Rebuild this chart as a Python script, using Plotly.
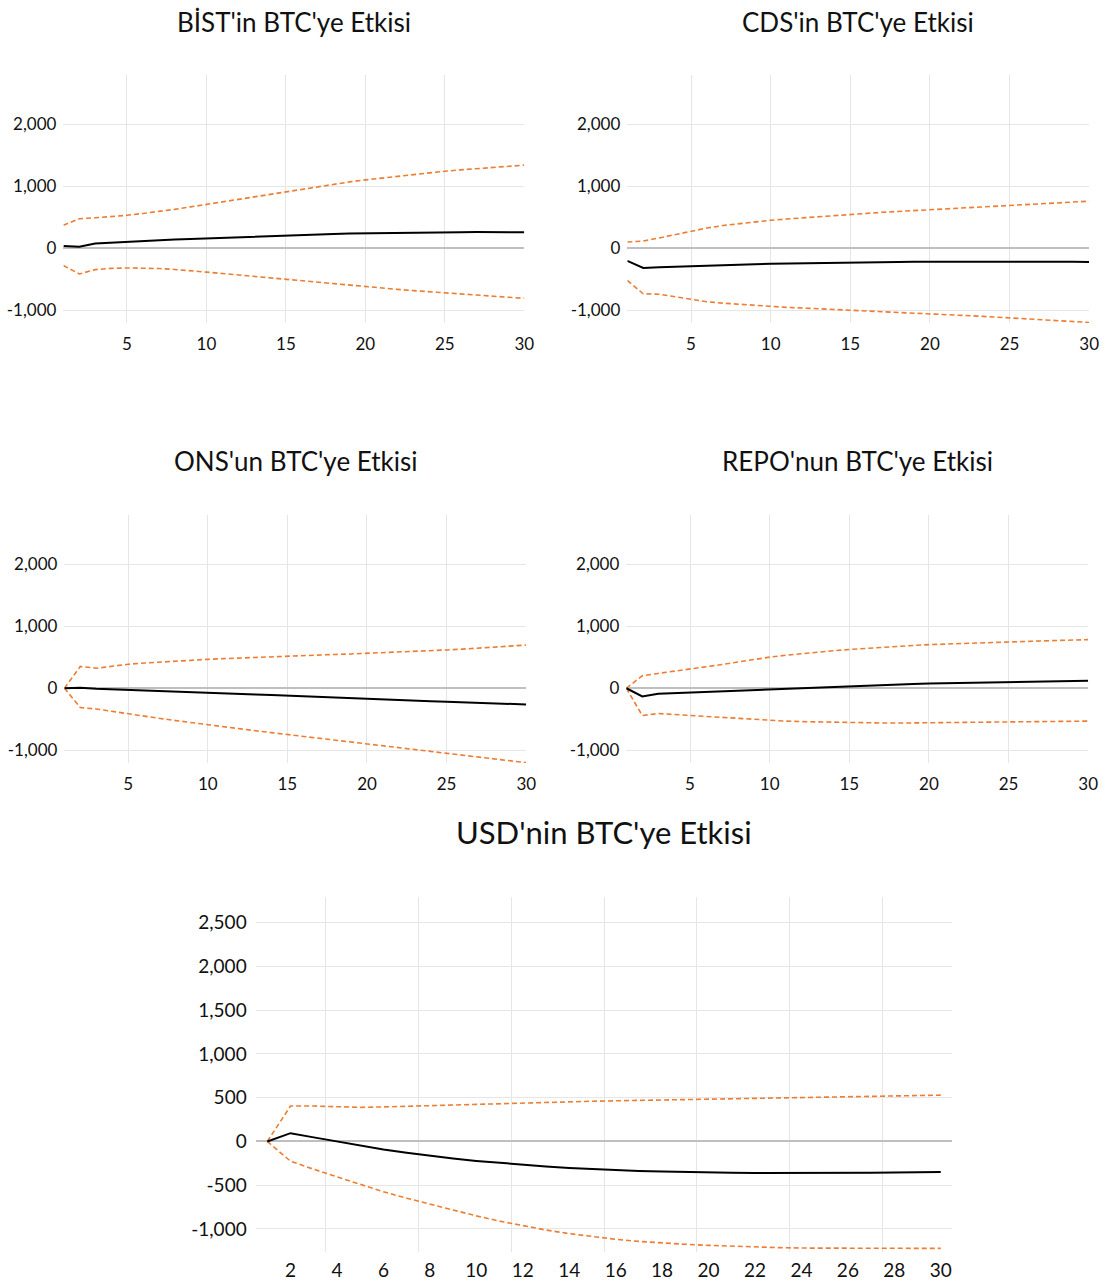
import plotly.graph_objects as go

# Impulse-response horizon (periods)
periods = list(range(1, 31))

# BİST -> BTC
bist_irf = [35, 25, 75, 90, 105, 117, 128, 139, 150, 160, 170, 180, 189, 198, 206,
            214, 221, 228, 235, 240, 245, 249, 252, 255, 257, 258, 259, 259, 259, 258]
bist_upper = [370, 475, 490, 505, 530, 560, 590, 625, 665, 705, 748, 790, 830, 875, 915,
              955, 995, 1030, 1068, 1100, 1130, 1160, 1190, 1215, 1240, 1262, 1283, 1302, 1320, 1338]
bist_lower = [-280, -415, -345, -325, -318, -320, -328, -342, -360, -385, -408, -432, -456, -480, -505,
              -530, -553, -576, -600, -622, -643, -663, -683, -702, -720, -738, -755, -772, -790, -808]

# CDS -> BTC
cds_irf = [-205, -318, -305, -295, -285, -277, -270, -263, -257, -251, -246, -241, -237, -233, -229,
           -226, -223, -221, -219, -218, -217, -216, -216, -214, -217, -218, -219, -219, -220, -221]
cds_upper = [100, 115, 165, 220, 278, 325, 365, 395, 425, 450, 470, 490, 510, 530, 548,
             563, 578, 592, 606, 620, 634, 648, 661, 674, 688, 702, 716, 730, 743, 757]
cds_lower = [-520, -735, -742, -785, -830, -862, -885, -905, -925, -942, -953, -964, -975, -985, -995,
             -1006, -1017, -1029, -1041, -1053, -1066, -1080, -1094, -1108, -1122, -1137, -1152, -1166, -1181, -1196]

# ONS -> BTC
ons_irf = [0, 8, -8, -16, -25, -33, -42, -51, -60, -70, -80, -90, -100, -111, -122,
           -133, -144, -154, -164, -175, -184, -194, -202, -210, -218, -226, -234, -243, -252, -262]
ons_upper = [0, 350, 322, 355, 385, 405, 422, 437, 452, 465, 476, 487, 498, 508, 518,
             527, 536, 544, 552, 561, 570, 580, 591, 603, 616, 630, 645, 660, 677, 695]
ons_lower = [0, -312, -335, -375, -413, -450, -487, -522, -557, -592, -623, -654, -685, -716, -746,
             -777, -808, -838, -869, -899, -930, -961, -992, -1022, -1053, -1082, -1111, -1140, -1170, -1200]

# REPO -> BTC
repo_irf = [0, -132, -88, -78, -68, -58, -47, -37, -27, -17, -6, 5, 16, 27, 37,
            46, 54, 61, 68, 74, 79, 84, 89, 94, 99, 104, 109, 113, 117, 121]
repo_upper = [0, 200, 238, 272, 307, 344, 381, 422, 463, 500, 530, 557, 582, 604, 624,
              642, 658, 673, 688, 702, 712, 721, 729, 737, 745, 753, 761, 768, 775, 782]
repo_lower = [0, -440, -408, -420, -438, -455, -470, -487, -503, -518, -530, -538, -544, -548, -552,
              -557, -560, -562, -560, -556, -553, -550, -548, -545, -542, -540, -537, -535, -532, -530]

# USD -> BTC
usd_irf = [0, 95, 47, 0, -48, -92, -130, -165, -195, -222, -246, -267, -286, -302, -316,
           -328, -337, -344, -350, -354, -357, -359, -360, -360, -360, -359, -357, -355, -352, -349]
usd_upper = [0, 405, 405, 397, 390, 395, 403, 410, 418, 425, 432, 440, 447, 453, 460,
             465, 469, 473, 477, 481, 485, 489, 493, 497, 502, 507, 513, 519, 525, 530]
usd_lower = [0, -225, -318, -405, -490, -575, -648, -718, -785, -850, -910, -965, -1012, -1053, -1088,
             -1118, -1142, -1160, -1175, -1187, -1197, -1206, -1213, -1218, -1220, -1222, -1224, -1225, -1224, -1222]

titles = ["BİST'in BTC'ye Etkisi", "CDS'in BTC'ye Etkisi", "ONS'un BTC'ye Etkisi",
          "REPO'nun BTC'ye Etkisi", "USD'nin BTC'ye Etkisi"]

small_yticks = [-1000, 0, 1000, 2000]
small_yticktext = ["-1,000", "0", "1,000", "2,000"]
small_xticks = [5, 10, 15, 20, 25, 30]
usd_yticks = [-1000, -500, 0, 500, 1000, 1500, 2000, 2500]
usd_yticktext = ["-1,000", "-500", "0", "500", "1,000", "1,500", "2,000", "2,500"]
usd_xticks = list(range(2, 31, 2))
usd_xgrid = [3.5, 7.5, 11.5, 15.5, 19.5, 23.5, 27.5]

W, H = 1115, 1281
FONT = "Lato, 'Open Sans', sans-serif"
ORANGE = "#ED7D31"
GRID = "#E6E6E6"
TEXT = "#111111"


def px_x(a, b):
    return [a / W, b / W]


def px_y(top, bottom):
    return [1 - bottom / H, 1 - top / H]


# pixel boxes of the five plot areas: (left, right, top, bottom)
boxes = [
    (64, 529, 75, 323),
    (633, 1099, 75, 323),
    (65, 531, 515, 763),
    (632, 1098, 515, 763),
    (258, 961, 897, 1252),
]

series = [
    (bist_irf, bist_upper, bist_lower),
    (cds_irf, cds_upper, cds_lower),
    (ons_irf, ons_upper, ons_lower),
    (repo_irf, repo_upper, repo_lower),
    (usd_irf, usd_upper, usd_lower),
]

fig = go.Figure()
layout = dict(
    width=W, height=H,
    margin=dict(l=0, r=0, t=0, b=0),
    paper_bgcolor="white", plot_bgcolor="white",
    showlegend=False,
    font=dict(family=FONT, color=TEXT),
    annotations=[],
)

for i, ((irf, up, lo), box) in enumerate(zip(series, boxes)):
    n = i + 1
    xa = "x" if n == 1 else f"x{n}"
    ya = "y" if n == 1 else f"y{n}"
    for vals, color, dash, width in ((up, ORANGE, "5px,3px", 1.6),
                                     (lo, ORANGE, "5px,3px", 1.6),
                                     (irf, "black", "solid", 2)):
        fig.add_trace(go.Scatter(x=periods, y=vals, mode="lines", xaxis=xa, yaxis=ya,
                                 line=dict(color=color, dash=dash, width=width),
                                 hoverinfo="skip"))
    left, right, top, bottom = box
    big = n == 5
    xkey = "xaxis" if n == 1 else f"xaxis{n}"
    ykey = "yaxis" if n == 1 else f"yaxis{n}"
    if big:
        xaxis = dict(domain=px_x(left, right), range=[0.5, 30.5], tickmode="array",
                     tickvals=usd_xticks, showgrid=False, zeroline=False, showline=False,
                     tickfont=dict(size=19, family=FONT, color=TEXT),
                     ticks="", ticklabelstandoff=5,
                     minor=dict(tickmode="array", tickvals=usd_xgrid, showgrid=True,
                                gridcolor=GRID, gridwidth=1, ticks=""),
                     anchor=ya, fixedrange=True)
        yaxis = dict(domain=px_y(top, bottom), range=[-1263, 2794], tickmode="array",
                     tickvals=usd_yticks, ticktext=usd_yticktext, showgrid=True,
                     gridcolor=GRID, gridwidth=1, zeroline=True, zerolinecolor="#BFBFBF",
                     zerolinewidth=1.5, showline=False, ticks="", ticklabelstandoff=8,
                     tickfont=dict(size=19, family=FONT, color=TEXT),
                     anchor=xa, fixedrange=True)
        title_size, title_y = 31, 832
    else:
        xaxis = dict(domain=px_x(left, right), range=[1, 30], tickmode="array",
                     tickvals=small_xticks, showgrid=True, gridcolor=GRID, gridwidth=1,
                     zeroline=False, showline=False, ticks="", ticklabelstandoff=9,
                     tickfont=dict(size=17, family=FONT, color=TEXT),
                     anchor=ya, fixedrange=True)
        yaxis = dict(domain=px_y(top, bottom), range=[-1205, 2790], tickmode="array",
                     tickvals=small_yticks, ticktext=small_yticktext, showgrid=True,
                     gridcolor=GRID, gridwidth=1, zeroline=True, zerolinecolor="#BFBFBF",
                     zerolinewidth=1.5, showline=False, ticks="", ticklabelstandoff=6,
                     tickfont=dict(size=17, family=FONT, color=TEXT),
                     anchor=xa, fixedrange=True)
        title_size = 26
        title_y = 22 if n <= 2 else 461
    layout[xkey] = xaxis
    layout[ykey] = yaxis
    layout["annotations"].append(dict(
        text=titles[i], xref="paper", yref="paper",
        x=(left + right) / 2 / W, y=1 - title_y / H,
        xanchor="center", yanchor="middle", showarrow=False,
        font=dict(size=title_size, family=FONT, color=TEXT),
    ))

fig.update_layout(**layout)
fig.write_html("out.html")
